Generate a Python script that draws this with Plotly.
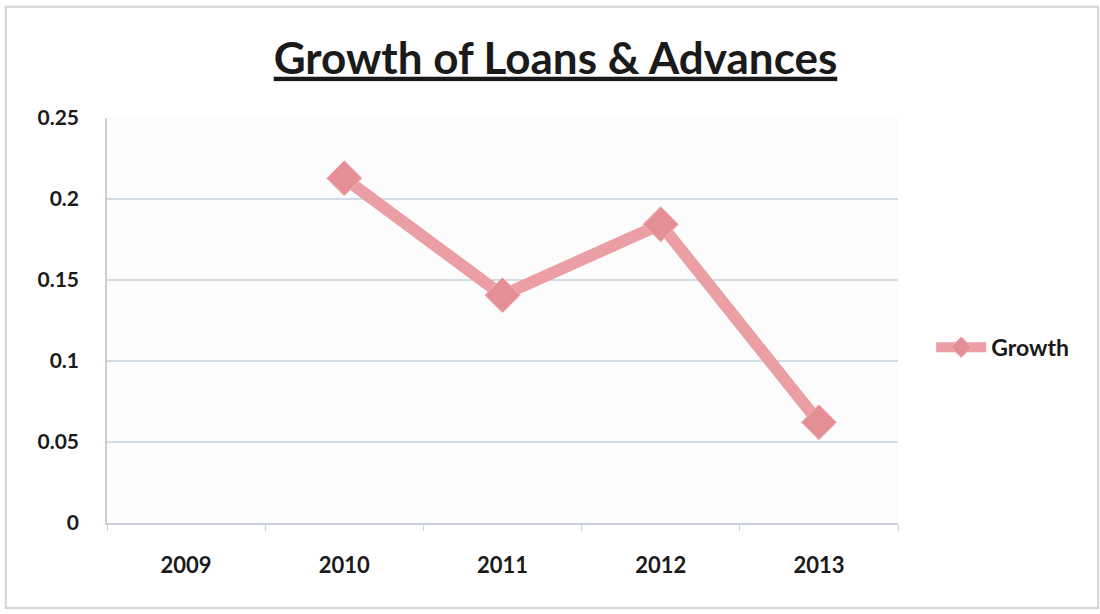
import plotly.graph_objects as go

# Year-on-year growth of loans & advances
years = ["2009", "2010", "2011", "2012", "2013"]
growth = [None, 0.2128, 0.1406, 0.1844, 0.0622]
series_name = "Growth"

y_ticks = [0, 0.05, 0.1, 0.15, 0.2, 0.25]
y_tick_text = ["0", "0.05", "0.1", "0.15", "0.2", "0.25"]

FONT = "Lato, 'Open Sans', sans-serif"
LINE_COLOR = "#eb9ea3"
MARKER_COLOR = "#e48e95"

fig = go.Figure()
fig.add_trace(go.Scatter(
    x=years,
    y=growth,
    name=series_name,
    mode="lines+markers",
    line=dict(color=LINE_COLOR, width=12),
    marker=dict(symbol="diamond", size=27, color=MARKER_COLOR,
                line=dict(color="#f0b3b6", width=1)),
    connectgaps=False,
    showlegend=True,
))

fig.update_layout(
    width=1100,
    height=614,
    margin=dict(l=107, r=202, t=118, b=91),
    paper_bgcolor="white",
    plot_bgcolor="#fcfcfd",
    font=dict(family=FONT, color="#1a1a1a"),
    title=dict(
        text="<b><u>Growth of Loans &amp; Advances</u></b>",
        x=0.505, xanchor="center",
        y=0.905, yanchor="middle",
        font=dict(family=FONT, size=44, color="#1a1a1a"),
    ),
    xaxis=dict(
        type="category",
        categoryorder="array",
        categoryarray=years,
        range=[-0.5, 4.5],
        showgrid=False,
        showline=True,
        linecolor="#c9d0d9",
        linewidth=1.5,
        ticks="outside",
        tickson="boundaries",
        ticklen=6,
        tickcolor="#c9d0d9",
        tickfont=dict(family=FONT, size=22, color="#1a1a1a", weight="bold"),
        ticklabelstandoff=22,
        zeroline=False,
    ),
    yaxis=dict(
        range=[0, 0.25],
        tickvals=y_ticks,
        ticktext=y_tick_text,
        showgrid=True,
        gridcolor="#d3dbe5",
        gridwidth=1.5,
        showline=True,
        linecolor="#c9d0d9",
        linewidth=1.5,
        ticks="",
        tickfont=dict(family=FONT, size=21, color="#1a1a1a", weight="bold"),
        ticklabelstandoff=22,
        zeroline=False,
    ),
    legend=dict(
        x=1.042, xanchor="left",
        y=0.434, yanchor="middle",
        font=dict(family=FONT, size=23, color="#1a1a1a", weight="bold"),
        bgcolor="rgba(0,0,0,0)",
        itemwidth=50,
    ),
)

# chart frame
fig.add_shape(type="rect", xref="paper", yref="paper",
              x0=-0.128, x1=1.253, y0=-0.21, y1=1.275,
              line=dict(color="#d4d4d4", width=2), fillcolor="rgba(0,0,0,0)",
              layer="below")

fig.write_html("out.html")
